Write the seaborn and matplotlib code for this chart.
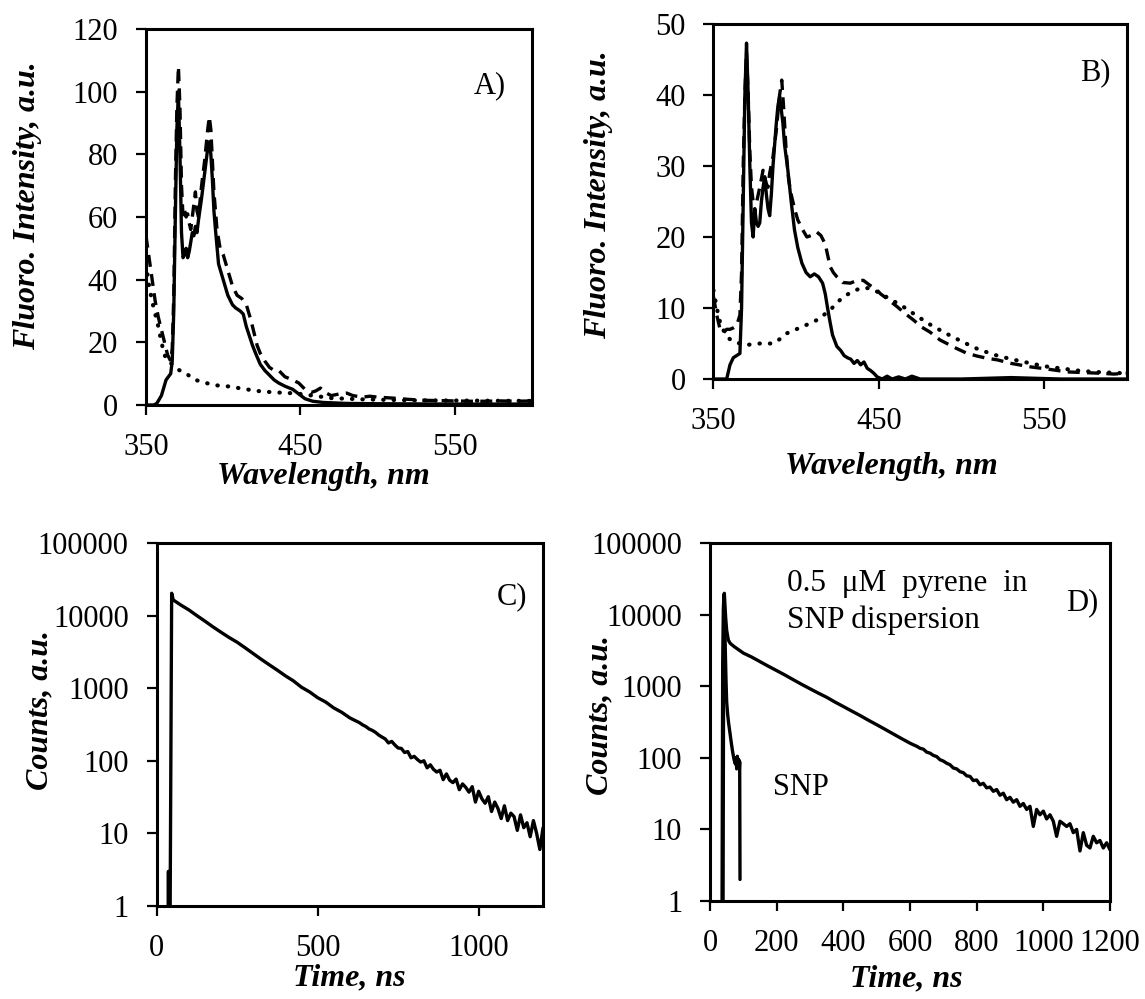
import numpy as np
import pandas as pd
import matplotlib
matplotlib.use("Agg")
import matplotlib.pyplot as plt
import seaborn as sns

# ---------------- Data ----------------
# Panel A (wavelength nm, intensity)
a_solid_x = [350, 355, 357, 360, 363, 366, 367, 368, 369, 370, 371, 372, 373, 374, 375, 376, 377, 378, 379, 380,
             381, 382, 383, 384, 386, 388, 390, 391, 392, 393, 394, 395, 397, 400, 403, 406, 408, 411, 413, 415,
             417, 419, 421, 424, 427, 430, 433, 436, 440, 445, 449, 453, 458, 465, 480, 500, 550, 600]
a_solid_y = [0, 0, 0.5, 3, 8, 10, 14, 30, 60, 88, 100, 80, 55, 47, 48, 50, 47, 49, 52, 55,
             54, 57, 55, 59, 66, 74, 82, 84, 80, 72, 62, 56, 45, 40, 35, 32, 31, 30, 29, 25,
             22, 19, 16.5, 13, 11, 9.5, 8, 7, 6, 5, 3.5, 2, 1.2, 0.8, 0.5, 0.4, 0.3, 0.3]

a_dash_x = [350, 352, 354, 356, 358, 360, 362, 364, 366, 367, 368, 369, 370, 371, 372, 373, 374, 375, 376, 377,
            378, 379, 380, 381, 382, 383, 384, 386, 388, 390, 391, 392, 393, 394, 396, 398, 400, 403, 406, 409,
            412, 415, 418, 420, 422, 424, 427, 430, 433, 436, 440, 445, 449, 453, 457, 460, 463, 466, 470, 475,
            480, 484, 490, 495, 500, 510, 520, 530, 540, 550, 560, 570, 580, 590, 600]
a_dash_y = [54, 47, 40, 33, 28, 24, 20, 16, 14, 18, 35, 70, 95, 108, 95, 70, 60, 62, 60, 61,
            58, 56, 60, 64, 68, 62, 60, 70, 78, 88, 92, 88, 78, 68, 56, 50, 48, 43, 38, 35,
            34, 32, 27, 23, 19, 16.5, 14, 12, 11, 11, 9, 8, 7, 5, 4, 4.5, 5.4, 4, 3, 3.5,
            3.8, 3, 2.5, 2.8, 2.5, 2.2, 1.8, 1.5, 1.4, 1.3, 1.2, 1.2, 1.3, 1.2, 1.3]

a_dot_x = [350, 352, 354, 356, 358, 360, 362, 364, 367, 370, 376, 382, 389, 395, 404, 415, 425, 435, 447, 458,
           470, 490, 520, 560, 600]
a_dot_y = [45, 38, 33, 29, 25, 20, 16, 14, 13, 11.5, 10, 8, 7, 6.3, 5.9, 5, 4.3, 4, 3.7, 3,
           2.2, 1.8, 1.5, 1.4, 1.3]

# Panel B
b_solid_x = [350, 356, 358, 360, 362, 364, 366, 367, 368, 369, 370, 371, 372, 373, 374, 375, 376, 377, 378, 379,
             380, 381, 382, 383, 384, 385, 386, 387, 388, 389, 390, 391, 392, 393, 395, 397, 399, 401, 403.5, 406,
             408.5, 411, 413.5, 416, 417.6, 419, 420.6, 422, 424.6, 427, 429, 431, 433, 435, 437, 439, 441, 443,
             445, 447, 449, 452, 455, 458, 462, 466, 470, 475, 500, 530, 560, 600]
b_solid_y = [0, 0, 0, 2, 3, 3.3, 3.6, 10, 25, 40, 47.3, 40, 30, 22, 20, 24, 22, 21.5, 22, 25,
             27, 28.5, 26, 24, 23, 26, 30, 33, 36, 38.5, 39.8, 38, 36, 33, 29.4, 25, 21, 18.5, 16.3, 15,
             14.4, 14.8, 14.4, 13.5, 12, 10, 7.9, 6.2, 4.6, 4, 3.3, 3, 2.8, 2.2, 2.6, 2, 2.4, 1.5,
             1.2, 0.8, 0.3, 0, 0.4, 0, 0.3, 0, 0.4, 0, 0, 0.2, 0, 0]

b_dash_x = [350, 352, 354, 356, 358, 360, 362, 364, 366, 367, 368, 369, 370, 371, 372, 373, 374, 376, 378, 380,
            382, 383, 384, 386, 388, 390, 391.3, 392.5, 394, 395.5, 397, 399, 401, 404, 406.5, 409, 412.5, 415,
            417.6, 419, 420.6, 422.5, 424.6, 428, 432.7, 436, 440.6, 444, 449, 451, 455, 461, 466, 471, 476,
            481, 487, 492, 497, 503.5, 510, 516, 521.6, 530, 542, 552, 564, 575, 585, 592, 600]
b_dash_y = [11.6, 9, 7, 6.5, 7, 7, 7.2, 7.5, 9, 15, 30, 40, 46, 40, 32, 27, 25, 24.8, 27, 29.4,
            27.5, 27, 29, 31.3, 35, 40, 42.1, 38, 32, 28, 26, 24, 22.4, 21, 20, 20.2, 20.7, 20.2,
            19, 17.5, 15.8, 15, 14.4, 13.6, 13.5, 13.8, 13.9, 13.3, 12.5, 12, 11.3, 10.2, 9.2, 8.3, 7.3,
            6.6, 5.5, 4.9, 4.3, 3.6, 3.2, 2.9, 2.7, 2.2, 1.7, 1.4, 1.0, 0.9, 0.8, 0.7, 0.8]

b_dot_x = [350, 352, 354, 356, 358, 360, 362, 366, 370, 374, 378, 382, 386, 390, 394, 399, 404, 408, 412.5, 416,
           420.6, 424, 428.7, 434, 439, 444, 449, 455, 461, 466, 471, 480, 490, 500, 510, 520, 530, 540, 550,
           560, 570, 580, 590, 600]
b_dot_y = [12.5, 10, 8, 6.9, 6, 5.6, 5.3, 5, 4.8, 4.9, 5, 5, 5, 5.6, 6.4, 6.9, 7.4, 7.8, 8.3, 8.9,
           9.7, 10.6, 11.6, 12.3, 12.8, 12.8, 12.3, 11.5, 10.7, 10, 9.2, 7.8, 6.5, 5.3, 4.2, 3.4, 2.8, 2.3, 1.8,
           1.5, 1.2, 1.0, 0.9, 0.8]

# Panel C (time ns, counts)
c_t = [0, 36, 37, 38, 39, 42, 47, 52, 75, 100, 125, 150, 175, 200, 225, 250, 275, 300, 325, 350,
       375, 400, 425, 450, 475, 500, 525, 550, 575, 600, 610, 620, 630, 640, 650, 660, 670, 680, 690,
       700, 710, 720, 730, 740, 750, 760, 770, 780, 790, 800, 810, 820, 830, 840, 850, 860, 870, 880,
       890, 900, 910, 920, 930, 940, 950, 960, 970, 980, 990, 1000, 1010, 1020, 1030, 1040, 1050, 1060,
       1070, 1080, 1090, 1100, 1110, 1120, 1130, 1140, 1150, 1160, 1170, 1180, 1190, 1200]
c_counts = [0.5, 0.5, 3, 0.5, 0.5, 0.5, 20300, 16400, 14000, 12000, 10000, 8400, 7000, 5900, 5000, 4300, 3600, 3000, 2500, 2100,
            1770, 1480, 1260, 1030, 890, 740, 645, 535, 465, 390, 370, 352, 335, 312, 296, 274, 262, 246, 226,
            212, 200, 176, 185, 165, 150, 148, 130, 134, 110, 115, 104, 96, 100, 80, 88, 76, 70, 74,
            55, 66, 54, 50, 56, 40, 48, 43, 37, 44, 27, 38, 30, 26, 32, 20, 27, 22,
            16, 24, 15, 19, 17, 11, 18, 12, 14, 9, 15, 10, 6, 12]

# Panel D
d_t = [0, 37, 39, 41, 43, 45, 47, 50, 55, 60, 65, 75, 100, 125, 150, 175, 200, 225, 250, 275,
       300, 325, 350, 375, 400, 425, 450, 475, 500, 525, 550, 575, 600, 610, 620, 630, 640, 650, 660,
       670, 680, 690, 700, 710, 720, 730, 740, 750, 760, 770, 780, 790, 800, 810, 820, 830, 840, 850,
       860, 870, 880, 890, 900, 910, 920, 930, 940, 950, 960, 970, 980, 990, 1000, 1010, 1020, 1030,
       1040, 1050, 1060, 1070, 1080, 1090, 1100, 1110, 1120, 1130, 1140, 1150, 1160, 1170, 1180, 1190, 1200]
d_counts = [0.5, 0.5, 0.5, 5000, 19800, 13000, 9000, 6000, 4400, 4000, 3800, 3500, 2900, 2550, 2200, 1900, 1650, 1430, 1230, 1060,
            920, 800, 700, 600, 520, 450, 390, 335, 290, 250, 215, 185, 160, 152, 145, 136, 132, 120, 116,
            108, 104, 94, 90, 84, 80, 72, 70, 64, 62, 56, 55, 48, 49, 42, 44, 38, 39, 34,
            36, 30, 32, 26, 28, 24, 26, 21, 23, 19, 21, 11, 19, 16, 18, 14, 16, 13,
            8, 13, 12, 11, 12, 9, 10, 5, 9, 6, 5.5, 8, 6.5, 7, 5.5, 6.5, 5.2]

snp_t = [33, 36, 38, 40, 42, 44, 46, 48, 50, 53, 56, 60, 64, 68, 72, 76, 78, 80, 82, 84, 86, 88, 89, 90]
snp_counts = [0.5, 0.5, 2000, 12000, 19000, 9000, 3000, 1200, 600, 400, 300, 220, 160, 120, 95, 82, 100, 70, 105, 72, 95, 70, 88, 2]

wl_ticks = [350, 450, 550]
a_yticks = [0, 20, 40, 60, 80, 100, 120]
b_yticks = [0, 10, 20, 30, 40, 50]
log_ticks = [1, 10, 100, 1000, 10000, 100000]
log_labels = ["1", "10", "100", "1000", "10000", "100000"]
c_xticks = [0, 500, 1000]
d_xticks = [0, 200, 400, 600, 800, 1000, 1200]

# ---------------- Style ----------------
sns.set_style("ticks")
plt.rcParams['font.family'] = ['Liberation Serif', 'DejaVu Serif']
FS = 22
LFS = 23
plt.rcParams.update({
    'font.size': FS,
    'text.color': 'black',
    'axes.labelcolor': 'black',
    'axes.linewidth': 2.2,
    'xtick.major.width': 1.6,
    'ytick.major.width': 1.6,
    'xtick.major.size': 7,
    'ytick.major.size': 7,
    'xtick.direction': 'out',
    'ytick.direction': 'out',
    'xtick.major.pad': 13,
    'ytick.major.pad': 13,
    'xtick.labelsize': FS,
    'ytick.labelsize': FS,
    'axes.edgecolor': 'black',
    'xtick.color': 'black',
    'ytick.color': 'black',
    'xtick.labelcolor': 'black',
    'ytick.labelcolor': 'black',
})

fig = plt.figure(figsize=(11.45, 9.99), dpi=100)
axA = fig.add_axes([0.1275, 0.5946, 0.3371, 0.3764])
axB = fig.add_axes([0.6231, 0.6206, 0.3611, 0.3554])
axC = fig.add_axes([0.1367, 0.0931, 0.3376, 0.3634])
axD = fig.add_axes([0.6201, 0.0981, 0.3493, 0.3584])

LW = 2.4
dash_style = (0, (3.6, 2.2))
dot_style = (0, (0.1, 2.4))

label_font = dict(fontsize=LFS, fontweight='bold', fontstyle='italic', color='black')

def place_labels(ax, xc, yc):
    ax.xaxis.label.set_va('center')
    ax.yaxis.label.set_va('center')
    ax.xaxis.set_label_coords(*xc)
    ax.yaxis.set_label_coords(*yc)

def spectra(ax, sx, sy, dx, dy, ox, oy, ymax, yticks):
    sns.lineplot(x=sx, y=sy, ax=ax, color='black', lw=LW, errorbar=None, sort=False)
    sns.lineplot(x=dx, y=dy, ax=ax, color='black', lw=LW, linestyle=dash_style, errorbar=None, sort=False)
    sns.lineplot(x=ox, y=oy, ax=ax, color='black', lw=LW + 0.6, linestyle=dot_style,
                 dash_capstyle='round', errorbar=None, sort=False)
    ax.set_xlim(350, 600)
    ax.set_ylim(0, ymax)
    ax.set_xticks(wl_ticks)
    ax.set_xticklabels([str(v) for v in wl_ticks])
    ax.set_yticks(yticks)
    ax.set_yticklabels([str(v) for v in yticks])
    ax.set_xlabel("Wavelength, nm", **label_font)
    ax.set_ylabel("Fluoro. Intensity, a.u.", **label_font)
    for s in ax.spines.values():
        s.set_visible(True)

spectra(axA, a_solid_x, a_solid_y, a_dash_x, a_dash_y, a_dot_x, a_dot_y, 120, a_yticks)
spectra(axB, b_solid_x, b_solid_y, b_dash_x, b_dash_y, b_dot_x, b_dot_y, 50, b_yticks)

place_labels(axA, (0.46, -0.19), (-0.308, 0.53))
axA.text(0.89, 0.85, "A)", transform=axA.transAxes, ha='center', va='center', fontsize=FS)

place_labels(axB, (0.43, -0.245), (-0.279, 0.52))
axB.text(0.923, 0.862, "B)", transform=axB.transAxes, ha='center', va='center', fontsize=FS)

def decay(ax, xticks):
    ax.set_yscale('log')
    ax.set_ylim(1, 100000)
    ax.set_xlim(0, 1200)
    ax.set_yticks(log_ticks)
    ax.set_yticklabels(log_labels)
    ax.yaxis.set_minor_locator(matplotlib.ticker.NullLocator())
    ax.set_xticks(xticks)
    ax.set_xticklabels([str(v) for v in xticks])
    ax.set_xlabel("Time, ns", **label_font)
    ax.set_ylabel("Counts, a.u.", **label_font)
    for s in ax.spines.values():
        s.set_visible(True)

sns.lineplot(x=c_t, y=c_counts, ax=axC, color='black', lw=LW, errorbar=None, sort=False)
decay(axC, c_xticks)
place_labels(axC, (0.498, -0.197), (-0.301, 0.54))
axC.text(0.92, 0.851, "C)", transform=axC.transAxes, ha='center', va='center', fontsize=FS)

sns.lineplot(x=d_t, y=d_counts, ax=axD, color='black', lw=LW, errorbar=None, sort=False)
sns.lineplot(x=snp_t, y=snp_counts, ax=axD, color='black', lw=LW, errorbar=None, sort=False)
decay(axD, d_xticks)
place_labels(axD, (0.49, -0.217), (-0.275, 0.52))
axD.text(0.93, 0.832, "D)", transform=axD.transAxes, ha='center', va='center', fontsize=FS)
axD.text(0.1925, 0.888, "0.5  μM  pyrene  in", transform=axD.transAxes, ha='left', va='center', fontsize=FS + 0.5)
axD.text(0.1925, 0.785, "SNP dispersion", transform=axD.transAxes, ha='left', va='center', fontsize=FS + 0.5)
axD.text(0.1575, 0.318, "SNP", transform=axD.transAxes, ha='left', va='center', fontsize=FS)

fig.savefig("out.png", dpi=100)
